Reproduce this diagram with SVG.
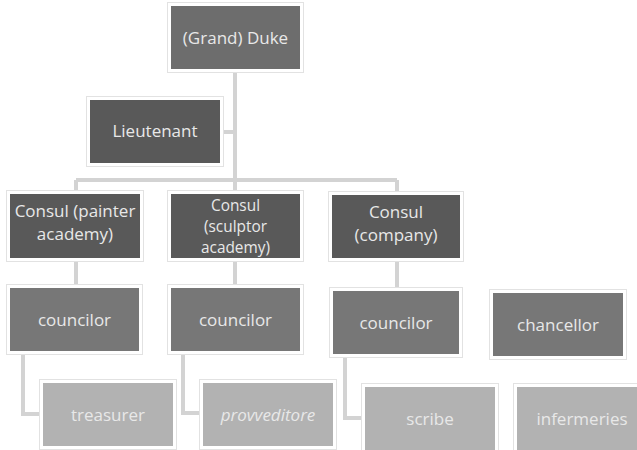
<svg xmlns="http://www.w3.org/2000/svg" width="637" height="450" viewBox="0 0 637 450">
<style>
.frame{fill:#ffffff;stroke:#e2e2e2;stroke-width:1}
.d1{fill:#6d6d6d}
.d2{fill:#595959}
.d3{fill:#777777}
.d4{fill:#b2b2b2}
text{font-family:"Open Sans","Noto Sans",sans-serif;font-size:17px;fill:#e8e8e8;text-anchor:middle}
.sm{font-size:15.4px}
.it{font-style:italic}
.conn{fill:none;stroke:#d3d3d3;stroke-width:4}
</style>
<rect width="637" height="450" fill="#ffffff"/>
<g id="connectors">
<path class="conn" d="M235 72V180M223 132H235M76 180H397M76 180V192M235 180V192M397 180V192"/>
<path class="conn" d="M76 261V286M235 261V286M397 261V289"/>
<path class="conn" d="M23 354V414H41M183 354V413H200M345 357V418H363"/>
</g>
<g id="duke"><rect class="frame" x="167.5" y="2.5" width="136" height="70"/><rect class="d1" x="171" y="6" width="129" height="63"/><text x="235.5" y="44">(Grand) Duke</text></g>
<g id="lieutenant"><rect class="frame" x="86.5" y="96.5" width="137" height="70"/><rect class="d2" x="90" y="100" width="130" height="63"/><text x="155" y="137">Lieutenant</text></g>
<g id="consul1"><rect class="frame" x="6.5" y="190.5" width="137" height="71"/><rect class="d2" x="10" y="194" width="130" height="64"/><text x="75" y="217">Consul (painter</text><text x="75" y="240">academy)</text></g>
<g id="consul2"><rect class="frame" x="167.5" y="190.5" width="136" height="71"/><rect class="d2" x="171" y="194" width="129" height="64"/><text class="sm" x="235.5" y="210.5">Consul</text><text class="sm" x="235.5" y="231.7">(sculptor</text><text class="sm" x="235.5" y="252.9">academy)</text></g>
<g id="consul3"><rect class="frame" x="328.5" y="191.5" width="135" height="70"/><rect class="d2" x="332" y="195" width="128" height="63"/><text x="396" y="218">Consul</text><text x="396" y="241">(company)</text></g>
<g id="councilor1"><rect class="frame" x="6.5" y="284.5" width="136" height="70"/><rect class="d3" x="10" y="288" width="129" height="63"/><text x="74.5" y="326">councilor</text></g>
<g id="councilor2"><rect class="frame" x="167.5" y="284.5" width="136" height="70"/><rect class="d3" x="171" y="288" width="129" height="63"/><text x="235.5" y="326">councilor</text></g>
<g id="councilor3"><rect class="frame" x="329.5" y="287.5" width="133" height="70"/><rect class="d3" x="333" y="291" width="126" height="63"/><text x="396" y="329">councilor</text></g>
<g id="chancellor"><rect class="frame" x="489.5" y="289.5" width="137" height="70"/><rect class="d3" x="493" y="293" width="130" height="63"/><text x="558" y="331">chancellor</text></g>
<g id="treasurer"><rect class="frame" x="39.5" y="379.5" width="137" height="70"/><rect class="d4" x="43" y="383" width="130" height="63"/><text x="108" y="421">treasurer</text></g>
<g id="provveditore"><rect class="frame" x="199.5" y="379.5" width="137" height="70"/><rect class="d4" x="203" y="383" width="130" height="63"/><text class="it" x="268" y="421">provveditore</text></g>
<g id="scribe"><rect class="frame" x="361.5" y="383.5" width="137" height="70"/><rect class="d4" x="365" y="387" width="130" height="63"/><text x="430" y="425">scribe</text></g>
<g id="infermeries"><rect class="frame" x="513.5" y="383.5" width="137" height="70"/><rect class="d4" x="517" y="387" width="130" height="63"/><text x="582" y="425">infermeries</text></g>
</svg>
